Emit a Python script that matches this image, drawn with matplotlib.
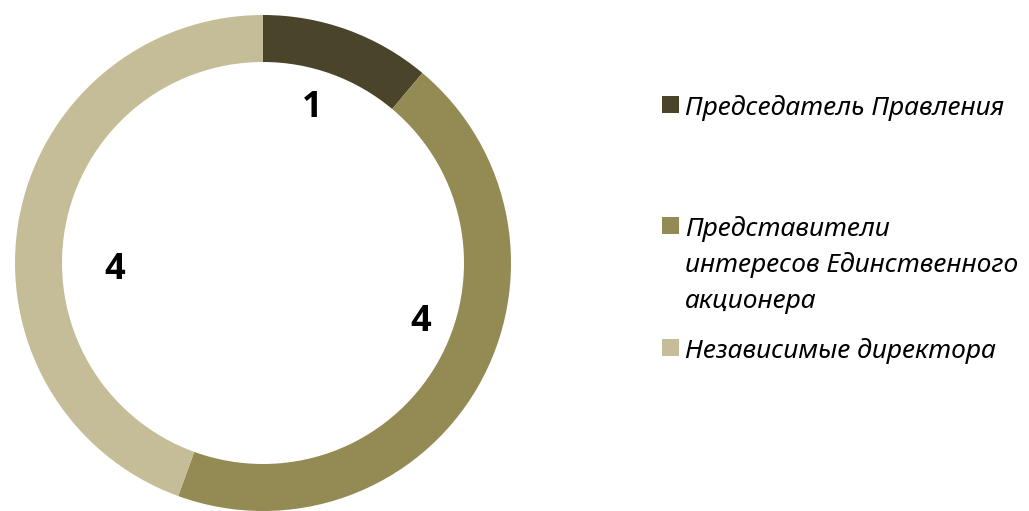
import matplotlib
matplotlib.use("Agg")
import matplotlib.pyplot as plt
from matplotlib.patches import Rectangle

categories = ["Председатель Правления",
              "Представители\nинтересов Единственного\nакционера",
              "Независимые директора"]
values = [1, 4, 4]
colors = ["#4A452A", "#948A54", "#C4BD97"]

W, H = 1029, 511
fig = plt.figure(figsize=(W / 100, H / 100), dpi=100)
ax = fig.add_axes([0, 0, 1, 1])

cx, cy, R, ring = 263, H - 263, 248, 47
wedges, _ = ax.pie(values, colors=colors, startangle=90, counterclock=False,
                   radius=R, center=(cx, cy),
                   wedgeprops=dict(width=ring, linewidth=0))
ax.set_xlim(0, W)
ax.set_ylim(0, H)
ax.set_aspect("equal")
ax.axis("off")

# value labels
label_pos = [(312, 108), (421, 322), (115, 270)]
for (x, y), v in zip(label_pos, values):
    ax.text(x, H - y, str(v), ha="center", va="center", fontsize=26,
            fontweight="bold", family="Open Sans", color="black")

# legend
legend_y = [104, 225, 347]
for yy, lab, col in zip(legend_y, categories, colors):
    ax.add_patch(Rectangle((662, H - yy - 8.5), 17, 17, facecolor=col,
                           edgecolor="none"))
    for i, line in enumerate(lab.split("\n")):
        ax.text(685, H - (yy + i * 36), line, ha="left", va="center_baseline",
                fontsize=19, style="italic", family="Noto Sans", color="black")

fig.savefig("out.png", dpi=100)
